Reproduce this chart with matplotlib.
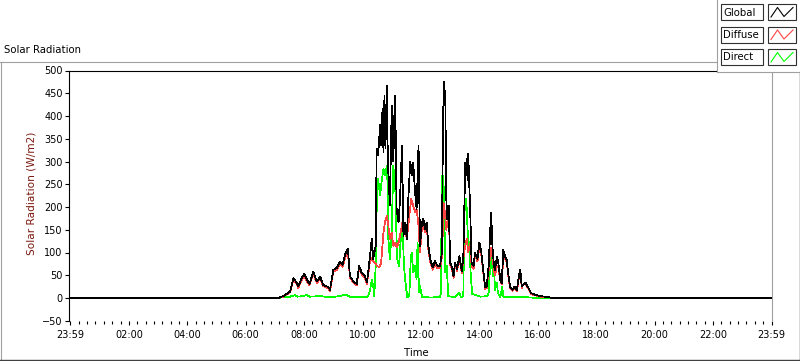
import matplotlib
matplotlib.use("Agg")
import matplotlib.pyplot as plt
from matplotlib.patches import Rectangle
from matplotlib.ticker import FixedLocator, MultipleLocator

# --- data (minutes after 23:59, W/m2) ---
global_min = [0, 426, 437, 451, 458, 465, 468, 475, 480, 485,
              491, 499, 506, 513, 519, 530, 533, 540, 547, 554,
              559, 564, 570, 574, 581, 588, 593, 598, 605, 609,
              615, 619, 622, 627, 629, 632, 636, 638, 641, 643,
              645, 647, 650, 652, 654, 656, 660, 662, 663, 665,
              667, 670, 674, 677, 681, 684, 687, 691, 694, 698,
              701, 704, 708, 711, 715, 718, 722, 725, 728, 732,
              735, 739, 744, 749, 754, 759, 763, 765, 767, 770,
              772, 774, 777, 780, 783, 787, 790, 794, 799, 804,
              807, 811, 813, 814, 816, 817, 821, 824, 828, 831,
              836, 840, 844, 847, 852, 855, 859, 862, 864, 867,
              870, 872, 876, 879, 883, 886, 889, 893, 896, 900,
              903, 908, 912, 917, 922, 924, 927, 930, 935, 941,
              946, 954, 965, 975, 985, 992, 1440]
global_wm2 = [0, 0, 4, 14, 44, 33, 26, 44, 53, 42,
              31, 58, 36, 47, 29, 24, 18, 62, 66, 80,
              73, 95, 108, 48, 37, 31, 70, 56, 48, 34,
              89, 130, 86, 115, 328, 313, 380, 335, 416, 320,
              445, 330, 467, 291, 260, 203, 423, 300, 401, 330,
              445, 196, 166, 218, 335, 137, 166, 130, 218, 300,
              269, 297, 231, 196, 335, 115, 166, 174, 152, 166,
              115, 86, 67, 81, 70, 70, 100, 364, 474, 438,
              218, 174, 203, 78, 70, 48, 78, 64, 92, 59,
              92, 298, 270, 306, 260, 317, 196, 78, 70, 100,
              86, 122, 100, 70, 23, 26, 70, 144, 188, 108,
              70, 62, 91, 77, 40, 33, 106, 91, 84, 47,
              25, 18, 25, 18, 54, 62, 25, 29, 33, 22,
              11, 7, 4, 3, 1, 0, 0]

diffuse_min = [0, 426, 437, 451, 458, 465, 468, 475, 480, 485,
               491, 499, 506, 513, 519, 530, 533, 540, 547, 554,
               559, 564, 570, 574, 581, 588, 593, 598, 605, 609,
               615, 619, 622, 627, 630, 634, 638, 643, 646, 650,
               653, 656, 660, 663, 667, 670, 674, 677, 682, 686,
               691, 696, 700, 704, 708, 711, 715, 718, 722, 725,
               728, 732, 735, 739, 744, 749, 754, 759, 763, 765,
               766, 769, 772, 774, 777, 780, 783, 787, 790, 794,
               799, 804, 807, 811, 814, 817, 821, 824, 828, 831,
               836, 840, 844, 847, 852, 855, 859, 862, 864, 867,
               870, 872, 876, 879, 883, 886, 889, 893, 896, 900,
               903, 908, 912, 917, 922, 924, 927, 930, 935, 941,
               946, 954, 965, 975, 985, 992, 1440]
diffuse_wm2 = [0, 0, 3, 12, 40, 30, 22, 40, 50, 38,
               28, 54, 33, 43, 26, 21, 15, 58, 62, 76,
               68, 88, 100, 45, 34, 28, 66, 52, 44, 31,
               80, 88, 80, 76, 70, 68, 75, 144, 166, 181,
               159, 130, 144, 115, 122, 111, 122, 137, 166, 152,
               130, 181, 218, 203, 188, 196, 159, 100, 155, 165,
               145, 158, 108, 80, 62, 76, 65, 66, 90, 150,
               210, 190, 150, 165, 195, 72, 66, 44, 73, 60,
               85, 55, 88, 115, 130, 100, 120, 70, 64, 94,
               80, 115, 94, 64, 20, 22, 60, 95, 110, 90,
               60, 50, 70, 68, 38, 30, 90, 85, 80, 44,
               22, 16, 22, 16, 50, 58, 22, 30, 30, 20,
               9, 6, 3, 2, 1, 0, 0]

direct_min = [0, 426, 441, 451, 461, 467, 478, 485, 492, 513,
              533, 554, 564, 574, 595, 611, 615, 619, 622, 624,
              627, 629, 632, 636, 639, 643, 646, 650, 652, 653,
              656, 660, 663, 667, 669, 671, 675, 678, 682, 685,
              689, 692, 696, 699, 701, 704, 708, 711, 713, 716,
              718, 722, 739, 759, 761, 763, 766, 768, 770, 773,
              776, 790, 799, 802, 807, 809, 813, 816, 820, 822,
              825, 842, 856, 859, 862, 864, 868, 870, 872, 876,
              878, 883, 887, 889, 903, 924, 944, 975, 1440]
direct_wm2 = [0, 0, 2, 3, 6, 3, 4, 7, 3, 4,
              2, 4, 8, 3, 2, 3, 15, 40, 25, 4,
              70, 196, 262, 225, 254, 284, 269, 291, 232, 130,
              86, 144, 291, 254, 166, 86, 70, 122, 166, 70,
              26, 1, 4, 86, 100, 56, 70, 42, 122, 12,
              26, 3, 1, 2, 12, 269, 269, 181, 56, 70,
              4, 2, 12, 2, 4, 188, 218, 144, 100, 56,
              9, 3, 4, 12, 70, 100, 48, 70, 18, 33,
              11, 2, 25, 3, 2, 3, 1, 0, 0]

time_ticks = list(range(0, 1441, 120))
time_labels = ["23:59", "02:00", "04:00", "06:00", "08:00", "10:00", "12:00",
               "14:00", "16:00", "18:00", "20:00", "22:00", "23:59"]
y_ticks = list(range(-50, 501, 50))

series_names = ["Global", "Diffuse", "Direct"]
series_colors = ["#000000", "#ff4444", "#00ff00"]

W, H = 800, 361
FS = 7

fig = plt.figure(figsize=(W / 100, H / 100), dpi=100)
fig.patch.set_facecolor("white")

# plot area (pixel box: x 68.5..771.5, y 70.5..320.75)
ax = fig.add_axes([68.5 / W, 1 - 320.75 / H, 703 / W, (320.75 - 70.5) / H])
ax.plot(direct_min, direct_wm2, color=series_colors[2], lw=0.55, zorder=2, antialiased=False)
ax.plot(diffuse_min, diffuse_wm2, color=series_colors[1], lw=0.55, zorder=3, antialiased=False)
ax.plot(global_min, global_wm2, color=series_colors[0], lw=0.55, zorder=4, antialiased=False)

ax.set_xlim(-4, 1440)
ax.set_ylim(-50, 500)
ax.xaxis.set_major_locator(FixedLocator(time_ticks))
ax.xaxis.set_minor_locator(MultipleLocator(120 / 7))
ax.set_xticklabels(time_labels)
ax.yaxis.set_major_locator(FixedLocator(y_ticks))
ax.tick_params(axis="y", direction="out", length=3.2, width=0.8, pad=1, labelsize=FS)
ax.tick_params(axis="x", which="major", direction="out", length=3, width=0.8, pad=4, labelsize=FS)
ax.tick_params(axis="x", which="minor", direction="out", length=2.5, width=0.8)
ax.spines["bottom"].set_visible(False)
ax.spines["left"].set_color("black")
ax.spines["top"].set_color("black")
ax.spines["right"].set_color("#a0a0a0")
for s in ax.spines.values():
    s.set_linewidth(0.8)

# texts
fig.text(4 / W, 1 - 50 / H, "Solar Radiation", fontsize=7.3, ha="left", va="center")
fig.text(32 / W, 1 - 193 / H, "Solar Radiation (W/m2)", fontsize=7.6, rotation=90,
         ha="center", va="center", color="#7a1a10")
fig.text(416 / W, 1 - 353 / H, "Time", fontsize=7.3, ha="center", va="center")

# overlay in pixel coords for frame and legend
ov = fig.add_axes([0, 0, 1, 1], zorder=10)
ov.set_xlim(0, W)
ov.set_ylim(H, 0)
ov.axis("off")
ov.patch.set_visible(False)

ov.plot([0, 717], [61.5, 61.5], color="#a0a0a0", lw=0.8)
ov.plot([0.5, 0.5], [61.5, H], color="#a0a0a0", lw=0.8)
ov.plot([0, W], [360, 360], color="#404040", lw=1.0)
ov.plot([799.5, 799.5], [72, H], color="#404040", lw=1.0)

# legend panel
ov.add_patch(Rectangle((717, 0), 83, 72, facecolor="white", edgecolor="none"))
ov.plot([717, 717], [0, 72], color="#a0a0a0", lw=0.8)
ov.plot([717, 800], [72, 72], color="#a0a0a0", lw=0.8)
for i, (name, col) in enumerate(zip(series_names, series_colors)):
    top = 4 + i * 22.5
    ov.add_patch(Rectangle((721, top), 42, 16, facecolor="white", edgecolor="#303030", lw=0.8))
    ov.text(723.5, top + 8.5, name, fontsize=7.3, ha="left", va="center")
    ov.add_patch(Rectangle((768, top), 28, 16, facecolor="white", edgecolor="#303030", lw=0.8))
    ov.plot([771, 777.5, 784, 793], [top + 13, top + 3.5, top + 12.5, top + 3.5], color=col, lw=0.8)

fig.savefig("out.png", dpi=100)
